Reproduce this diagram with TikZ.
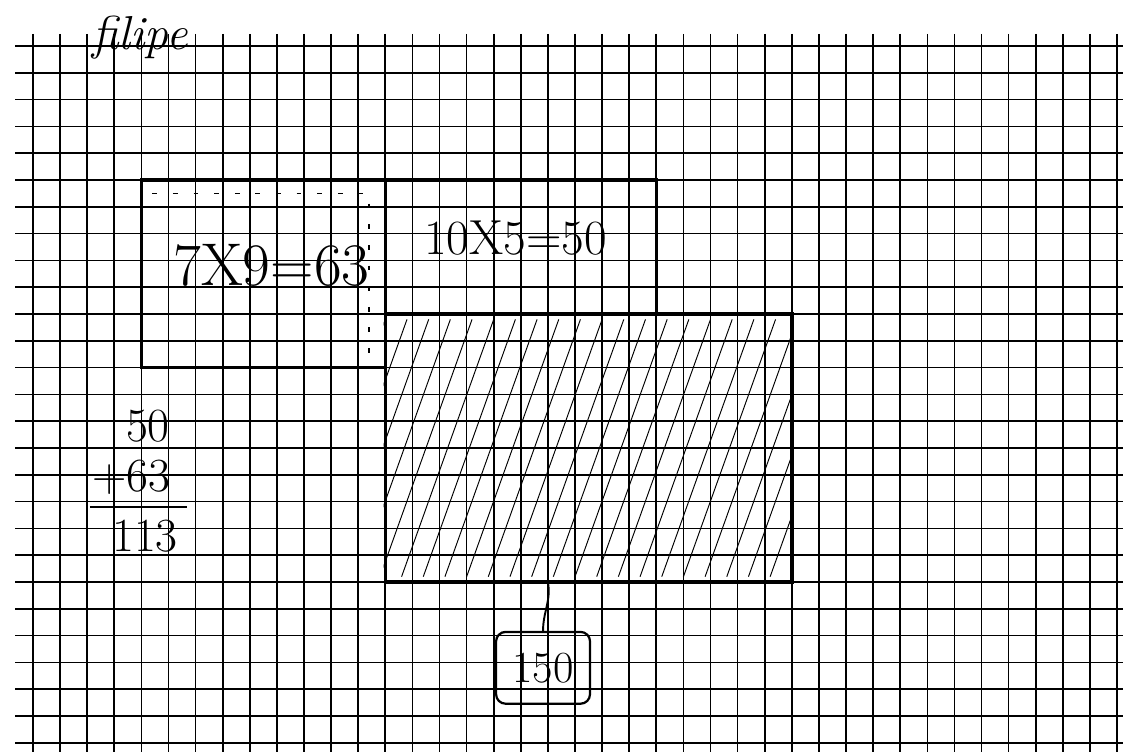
\documentclass[tikz,border=0pt]{standalone}
\usepackage{tikz}
\usetikzlibrary{
    positioning,
    fit,
    calc
}
\tikzset{
  gridline/.style = {black, line width=1.05pt},
  areabox/.style  = {draw, line width=2.2pt, inner sep=0pt},
  hatch/.style    = {black, line width=0.6pt},
  pencil/.style   = {black, line width=1.1pt, dash pattern=on 3pt off 10pt},
  calc/.style     = {font=\fontsize{38}{40}\selectfont, inner sep=0pt},
  sumtxt/.style   = {font=\fontsize{30}{32}\selectfont, inner sep=0pt},
  result/.style   = {draw, line width=1.4pt, rounded corners=6pt,
                     minimum width=2.08cm, minimum height=1.59cm,
                     font=\fontsize{28}{30}\selectfont},
  link/.style     = {black, line width=1.2pt}
}

\begin{document}
\begin{tikzpicture}[x=0.6cm, y=-0.5934cm]

\useasboundingbox (-1.218,-1.716) rectangle (40.22,26.31);
\fill[white] (-1.218,-1.716) rectangle (40.22,26.31);

% squared paper
\foreach \r in {0,...,26}
    \draw[gridline] (-0.66,\r) -- (40.3,\r);
\foreach \c in {0,...,40}
    \draw[gridline] (\c,-0.45) -- (\c,26.4);

% name
\node[font=\fontsize{30}{32}\selectfont\itshape] (name) at (3.95,-0.3) {filipe};

% areas
\node[areabox, fit={(4,5) (13,12)}] (areaA) {};
\node[areabox, fit={(13,5) (23,10)}] (areaB) {};
\node[areabox, fit={(13,10) (28,20)}] (areaC) {};

% pencil marks inside the first area
\draw[pencil] (4.4,5.5) -- (12.4,5.5) -- (12.4,11.6);

% hatching of the big area
\begin{scope}
\clip (areaC.south west) rectangle (areaC.north east);
\foreach \x in {9.6,10.4,...,28.4}
    \draw[hatch] (\x,19.8) -- (\x+3.4,10.2);
\end{scope}
\node[areabox, fit={(13,10) (28,20)}] {};

% products
\node[calc] (prodA) at (8.8,8.17) {7X9=63};
\node[calc, font=\fontsize{31}{33}\selectfont] (prodB) at (17.8,7.16) {10X5=50};

% sum
\node[sumtxt] (add1) at (4.24,14.2) {50};
\node[sumtxt] (add2) at (3.62,16.1) {+63};
\node[sumtxt] (total) at (4.13,18.3) {113};
\draw[line width=1.2pt] (2.1,17.2) -- (5.7,17.2);

% result
\node[result] (res) at (18.82,23.2) {150};
\coordinate (tap) at (19,20);
\draw[link] (tap) to[out=-80, in=90] (res.north);

\end{tikzpicture}
\end{document}
